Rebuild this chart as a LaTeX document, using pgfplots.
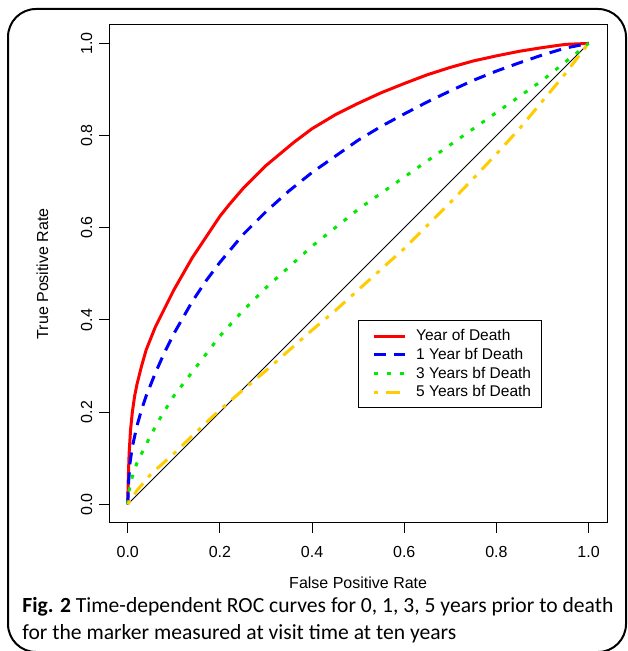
\documentclass[border=0pt]{standalone}
\usepackage{fontspec}
\setmainfont{Liberation Sans}
\newfontfamily\capfont{Carlito}
\usepackage{pgfplots}
\pgfplotsset{compat=1.18}

\definecolor{rocred}{RGB}{255,0,0}
\definecolor{rocblue}{RGB}{0,0,255}
\definecolor{rocgreen}{RGB}{0,235,0}
\definecolor{rocgold}{RGB}{255,204,0}

\begin{document}
\begin{tikzpicture}
% page = 627 x 651 px, 1 px = 0.5pt, origin at top left
\useasboundingbox (0,0) rectangle (313.5pt,-325.5pt);
\begin{scope}[x=0.5pt,y=-0.5pt]
  \clip (0,0) rectangle (627,651);
  \draw[line width=1pt, rounded corners=14] (8,9) rectangle (626,652);
  \node[anchor=base west, inner sep=0pt, font=\capfont\fontsize{10.8}{12}\selectfont] at (22,612)
    {\textbf{Fig. 2} Time-dependent ROC curves for 0, 1, 3, 5 years prior to death};
  \node[anchor=base west, inner sep=0pt, font=\capfont\fontsize{10.8}{12}\selectfont] at (22,639)
    {for the marker measured at visit time at ten years};
\end{scope}

\begin{axis}[
    at={(54.65pt,-261.35pt)}, anchor=south west,
    scale only axis,
    width=248.85pt, height=248.85pt,
    xmin=-0.04, xmax=1.04, ymin=-0.04, ymax=1.04,
    xtick={0,0.2,0.4,0.6,0.8,1},
    ytick={0,0.2,0.4,0.6,0.8,1},
    tick pos=left,
    tick align=outside,
    major tick length=5pt,
    axis line style={black, line width=0.5pt},
    tick style={black, line width=0.5pt},
    tick label style={font=\fontsize{8}{9}\selectfont},
    /pgf/number format/.cd, fixed, fixed zerofill, precision=1, assume math mode=true,
    /pgfplots/.cd,
    xticklabel shift=3.5pt,
    yticklabel style={rotate=90, anchor=south},
    xlabel={False Positive Rate},
    ylabel={True Positive Rate},
    label style={font=\fontsize{8}{9}\selectfont},
    xlabel style={at={(axis description cs:0.5,-0.121)}, anchor=center},
    ylabel style={at={(axis description cs:-0.1346,0.5)}, anchor=center},
    legend style={at={(axis cs:0.499,0.40)}, anchor=north west,
        draw=black, line width=0.5pt, font=\fontsize{7.75}{9.5}\selectfont,
        inner xsep=5pt, inner ysep=3.25pt, row sep=0pt,
        nodes={inner xsep=0pt, inner ysep=0pt, text height=7pt, text depth=2.3pt}},
    legend cell align=left,
    legend image code/.code={\path (0pt,0pt) (22.5pt,0pt); \draw[#1] (2pt,0pt) -- (17.5pt,0pt);},
]
\addplot[black, line width=0.4pt, forget plot] coordinates {(0,0) (1,1)};

\addplot[rocred, line width=1.5pt] coordinates {
 (0,0) (0.001,0.05) (0.003,0.11) (0.006,0.16) (0.01,0.2) (0.015,0.235)
 (0.02,0.26) (0.03,0.3) (0.04,0.335) (0.05,0.36) (0.06,0.385) (0.07,0.405)
 (0.08,0.425) (0.09,0.445) (0.1,0.465) (0.12,0.5) (0.14,0.535) (0.16,0.565)
 (0.18,0.595) (0.2,0.625) (0.22,0.65) (0.25,0.685) (0.28,0.715) (0.3,0.735)
 (0.33,0.76) (0.36,0.785) (0.4,0.815) (0.45,0.845) (0.5,0.87) (0.55,0.893)
 (0.6,0.913) (0.65,0.932) (0.7,0.948) (0.75,0.962) (0.8,0.973) (0.85,0.983)
 (0.9,0.991) (0.95,0.998) (1,1)
};
\addlegendentry{Year of Death}

\addplot[rocblue, line width=1.5pt, dash pattern=on 6pt off 4pt] coordinates {
 (0,0) (0.002,0.05) (0.005,0.09) (0.01,0.125) (0.02,0.17) (0.03,0.205)
 (0.04,0.235) (0.06,0.285) (0.08,0.33) (0.1,0.37) (0.12,0.405) (0.14,0.44)
 (0.17,0.485) (0.2,0.525) (0.25,0.585) (0.3,0.635) (0.35,0.68) (0.4,0.72)
 (0.45,0.755) (0.5,0.79) (0.55,0.82) (0.6,0.847) (0.65,0.873) (0.7,0.897)
 (0.75,0.92) (0.8,0.94) (0.85,0.958) (0.9,0.975) (0.95,0.99) (1,1)
};
\addlegendentry{1 Year bf Death}

\addplot[rocgreen, line width=1.5pt, dash pattern=on 2pt off 4.5pt] coordinates {
 (0,0) (0.003,0.03) (0.01,0.06) (0.02,0.09) (0.035,0.12) (0.05,0.15)
 (0.075,0.195) (0.1,0.235) (0.15,0.30) (0.2,0.365) (0.25,0.42) (0.3,0.47)
 (0.35,0.515) (0.4,0.56) (0.45,0.6) (0.5,0.64) (0.55,0.675) (0.6,0.71)
 (0.65,0.745) (0.7,0.78) (0.75,0.815) (0.8,0.85) (0.85,0.885) (0.9,0.92)
 (0.95,0.96) (1,1)
};
\addlegendentry{3 Years bf Death}

\addplot[rocgold, line width=1.5pt, dash pattern=on 2pt off 4pt on 7pt off 4pt] coordinates {
 (0,0) (0.02,0.03) (0.05,0.065) (0.1,0.11) (0.15,0.158) (0.2,0.205)
 (0.25,0.248) (0.3,0.29) (0.35,0.334) (0.4,0.378) (0.45,0.42) (0.5,0.465)
 (0.55,0.51) (0.6,0.555) (0.65,0.605) (0.7,0.655) (0.75,0.707) (0.8,0.76)
 (0.85,0.815) (0.9,0.875) (0.95,0.935) (1,1)
};
\addlegendentry{5 Years bf Death}
\end{axis}
\end{tikzpicture}
\end{document}
